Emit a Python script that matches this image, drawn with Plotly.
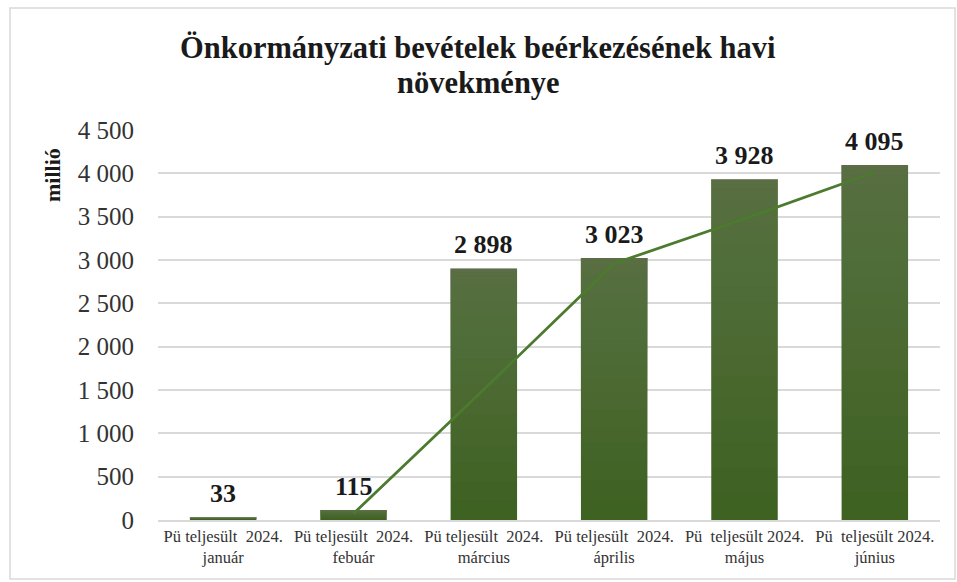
import plotly.graph_objects as go

categories = ["Pü teljesült  2024.<br>január", "Pü teljesült  2024.<br>febuár",
              "Pü teljesült  2024.<br>március", "Pü teljesült  2024.<br>április",
              "Pü  teljesült 2024.<br>május", "Pü  teljesült 2024.<br>június"]
values = [33, 115, 2898, 3023, 3928, 4095]
trend_categories = categories[1:]
trend_values = [74, 1506, 2960, 3476, 4012]
y_ticks = [0, 500, 1000, 1500, 2000, 2500, 3000, 3500, 4000, 4500]
title_lines = ["Önkormányzati bevételek beérkezésének havi", "növekménye"]

serif = "Liberation Serif, DejaVu Serif, serif"

fig = go.Figure()
# base bar (dark bottom colour of the gradient)
fig.add_trace(go.Bar(
    x=categories, y=values,
    marker=dict(color="#3e6222", line=dict(width=0)),
    showlegend=False, hoverinfo="x+y",
))
# translucent overlay layers to imitate the lighter-at-top gradient fill
N = 24
for k in range(1, N + 1):
    f = 1 - (1 - k / (N + 1)) ** 2
    fig.add_trace(go.Bar(
        x=categories, y=[v * (1 - f) for v in values], base=[v * f for v in values],
        marker=dict(color="#6b8660", opacity=0.056, line=dict(width=0)),
        showlegend=False, hoverinfo="skip",
    ))
fig.add_trace(go.Scatter(
    x=trend_categories, y=trend_values, mode="lines",
    line=dict(color="#4c7a2e", width=2.8), showlegend=False,
))

for c, v in zip(categories, values):
    fig.add_annotation(x=c, y=v, xref="x", yref="y", text=f"<b>{v:,}</b>".replace(",", " "),
                       showarrow=False, yanchor="middle", yshift=24,
                       font=dict(family=serif, size=26, color="#1a1a1a"))

L, R, T, B = 158, 17, 130, 62
W, H = 957, 582
pw, ph = W - L - R, H - T - B

def px(x):
    return (x - L) / pw

def py(y):
    return (H - B - y) / ph

fig.add_shape(type="rect", xref="paper", yref="paper",
              x0=px(10), x1=px(955), y0=py(579), y1=py(8),
              line=dict(color="#d9d9d9", width=1.5), layer="below")

fig.add_annotation(text="<b>millió</b>", xref="paper", yref="paper",
                   x=px(52), y=py(175), textangle=-90, showarrow=False,
                   xanchor="center", yanchor="middle",
                   font=dict(family=serif, size=22, color="#1a1a1a"))

for line, ypos in zip(title_lines, [48, 83]):
    fig.add_annotation(text=f"<b>{line}</b>", xref="paper", yref="paper",
                       x=px(478), y=py(ypos), showarrow=False,
                       xanchor="center", yanchor="middle",
                       font=dict(family=serif, size=30.5, color="#1a1a1a"))

fig.update_layout(
    width=W, height=H,
    margin=dict(l=L, r=R, t=T, b=B),
    paper_bgcolor="white", plot_bgcolor="white",
    separators=", ",
    barmode="overlay",
    bargap=0.49,
    font=dict(family=serif, color="#333333"),
    xaxis=dict(tickfont=dict(family=serif, size=16.5, color="#333333"),
               showline=True, linecolor="#d9d9d9", linewidth=1.5,
               ticks="", ticklen=0),
    yaxis=dict(range=[0, 4500], tickvals=y_ticks, tickformat=",",
               tickfont=dict(family=serif, size=25, color="#333333"),
               showgrid=True, gridcolor="#d9d9d9", gridwidth=1.5,
               zeroline=False, ticks="", ticklabelstandoff=23),
)

fig.write_html("out.html", config={"displayModeBar": False},
               post_script="document.body.style.margin='0';")
